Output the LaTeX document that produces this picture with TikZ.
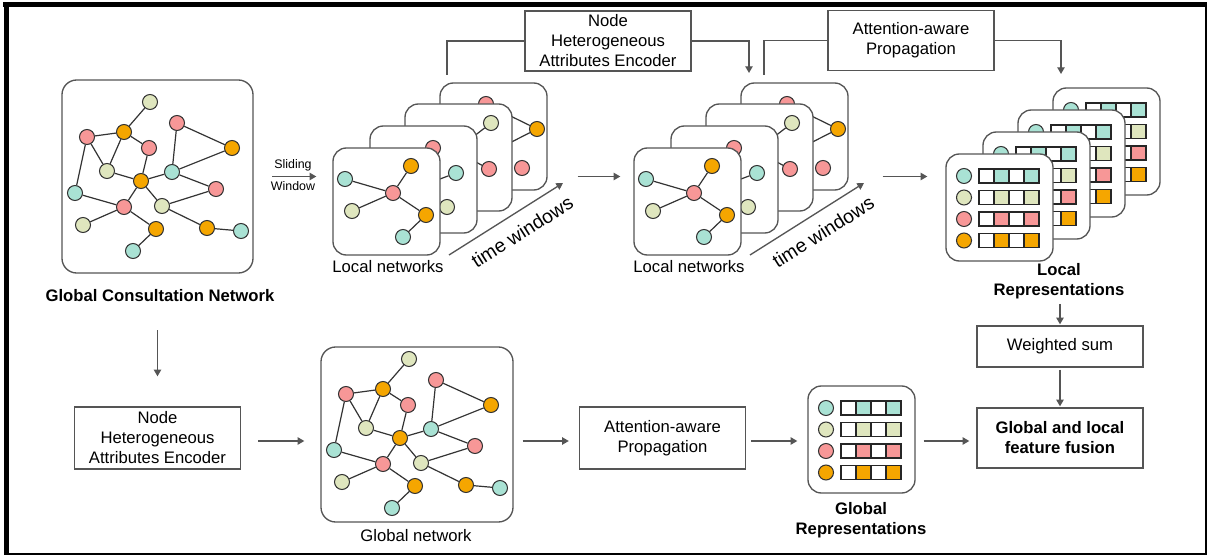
\documentclass[tikz,border=0pt]{standalone}
\usepackage{fontspec}
\setmainfont{Liberation Sans}
\usetikzlibrary{arrows.meta}

\definecolor{cMint}{HTML}{A9E2D4}
\definecolor{cSage}{HTML}{DFE6BE}
\definecolor{cRose}{HTML}{F79797}
\definecolor{cAmber}{HTML}{F5A600}
\definecolor{cInk}{HTML}{333333}
\definecolor{cFrame}{HTML}{555555}

\begin{document}
\begin{tikzpicture}[x=0.75pt,y=-0.75pt,>={Triangle[length=5pt,width=5.5pt]},
        font=\fontsize{12.5}{15}\selectfont,
        vertex/.style={circle,draw=cInk,line width=0.8pt,minimum size=11.25pt,inner sep=0pt},
        mint/.style={vertex,fill=cMint},
        sage/.style={vertex,fill=cSage},
        rose/.style={vertex,fill=cRose},
        amber/.style={vertex,fill=cAmber},
        link/.style={draw=cInk,line width=0.9pt},
        card/.style={draw=cFrame,line width=1pt,fill=white,rounded corners=10pt,
            minimum width=80.25pt,minimum height=80.25pt,inner sep=0pt},
        cell/.style={draw=black!85,line width=0.9pt,minimum width=11.25pt,
            minimum height=10.5pt,inner sep=0pt},
        box/.style={draw=cFrame,line width=1pt,minimum width=124.5pt,minimum height=45pt,
            align=center,inner sep=1pt},
        flow/.style={->,draw=cFrame,line width=1pt},
        conn/.style={draw=cFrame,line width=1pt},
        strong/.style={font=\fontsize{12.5}{15}\selectfont\bfseries,align=center}]
    \useasboundingbox (0,0) rectangle (1208,556);
    % frame
    \draw[line width=1.5pt] (5,4) rectangle (1206,554);
    \draw[line width=3.75pt] (3,4.5) -- (1207,4.5);
    \draw[line width=3.75pt] (6,3) -- (6,555);

    % global consultation network (top) and global network (bottom)
    \node[card,minimum width=143.25pt,minimum height=144.75pt,rounded corners=11pt] (gcn) at (157.5,176.5) {};
    \node[card,minimum width=144pt,minimum height=131.25pt,rounded corners=11pt] (glob) at (417,434.5) {};
    \foreach \dx/\dy/\p in {0/0/g, 259/257/h} {
        \begin{scope}[shift={(\dx,\dy)}]
            \node[sage]  (\p1)  at (150,102) {};
            \node[rose]  (\p2)  at (87,137)  {};
            \node[amber] (\p3)  at (124,132) {};
            \node[rose]  (\p4)  at (149,148) {};
            \node[rose]  (\p5)  at (177,123) {};
            \node[amber] (\p6)  at (232,148) {};
            \node[sage]  (\p7)  at (107,171) {};
            \node[amber] (\p8)  at (141,181) {};
            \node[mint]  (\p9)  at (172,172) {};
            \node[mint]  (\p10) at (75,193)  {};
            \node[rose]  (\p11) at (216,189) {};
            \node[rose]  (\p12) at (124,207) {};
            \node[sage]  (\p13) at (162,206) {};
            \node[sage]  (\p14) at (83,225)  {};
            \node[amber] (\p15) at (156,229) {};
            \node[amber] (\p16) at (207,228) {};
            \node[mint]  (\p17) at (241,231) {};
            \node[mint]  (\p18) at (133,251) {};
        \end{scope}
        \foreach \u/\v in {1/3,2/3,2/7,3/7,3/4,4/8,2/10,7/8,8/9,5/9,5/6,6/9,9/11,
                8/12,8/13,10/12,12/14,12/15,15/18,11/13,13/16,16/17}
            \draw[link] (\p\u) -- (\p\v);
    }
    \node[strong] (gcnl) at (160,296) {Global Consultation Network};
    \node (globl) at (416,536) {Global network};

    % local networks, one stack per time window
    \foreach \sx/\s in {0/a, 301/b} {
        \begin{scope}[shift={(333+\sx,148)}]
            \begin{scope}[shift={(107,-65)}]
                \node[card]  (\s4)  at (53.5,53.5) {};
                \node[rose]  (\s4x) at (50,70) {};
                \node[rose]  (\s4p) at (46,21) {};
                \node[amber] (\s4o) at (97,46) {};
                \node[rose]  (\s4q) at (82,85) {};
                \draw[link] (\s4o) -- (\s4p) (\s4o) -- (\s4x);
            \end{scope}
            \begin{scope}[shift={(72,-44)}]
                \node[card]  (\s3)  at (53.5,53.5) {};
                \node[rose]  (\s3x) at (50,47) {};
                \node[sage]  (\s3s) at (86,19) {};
                \node[rose]  (\s3r) at (84,65) {};
                \draw[link] (\s3x) -- (\s3s) (\s3x) -- (\s3r);
            \end{scope}
            \begin{scope}[shift={(37,-22)}]
                \node[card]  (\s2)  at (53.5,53.5) {};
                \node[amber] (\s2x) at (38,65) {};
                \node[rose]  (\s2r) at (63,22) {};
                \node[mint]  (\s2m) at (86,47) {};
                \node[sage]  (\s2s) at (77,81) {};
                \draw[link] (\s2x) -- (\s2r) (\s2x) -- (\s2m);
            \end{scope}
            \node[card]  (\s1)  at (53.5,53.5) {};
            \node[mint]  (\s1a) at (12,31) {};
            \node[amber] (\s1b) at (78,18) {};
            \node[rose]  (\s1c) at (60,45) {};
            \node[sage]  (\s1d) at (19,63) {};
            \node[amber] (\s1e) at (93,67) {};
            \node[mint]  (\s1f) at (70,89) {};
            \draw[link] (\s1c) -- (\s1a) (\s1c) -- (\s1b) (\s1c) -- (\s1d)
                (\s1c) -- (\s1e) (\s1e) -- (\s1f);
        \end{scope}
        \node (\s-net) at (388+\sx,267) {Local networks};
        \coordinate (\s-from) at (449+\sx,255);
        \coordinate (\s-to)   at (563+\sx,183);
        \draw[flow] (\s-from) -- node[sloped,below=5.5pt,pos=0.55,font=\fontsize{14.5}{17}\selectfont] {time windows} (\s-to);
    }

    % representation cards
    \foreach \x/\y/\n in {1053/88/lr4, 1018/110/lr3, 983/132/lr2, 946/154/lr1, 808/386/gr} {
        \begin{scope}[shift={(\x,\y)}]
            \node[card] (\n) at (53.5,53.5) {};
            \foreach \c [count=\i from 0] in {cMint,cSage,cRose,cAmber} {
                \node[vertex,fill=\c] (\n-\i) at (18,22+21.5*\i) {};
                \foreach \j/\f in {0/white,1/\c,2/white,3/\c}
                    \node[cell,fill=\f] (\n-\i-\j) at (40.5+15*\j,22+21.5*\i) {};
            }
        \end{scope}
    }
    \node[strong] (lrl) at (1059,281.5) {Local\\Representations};
    \node[strong] (grl) at (861,520.5) {Global\\Representations};

    % boxes
    \node[box] (enc2)  at (608,41)    {Node\\Heterogeneous\\Attributes Encoder};
    \node[box] (attn2) at (911,40.5)  {Attention-aware\\Propagation};
    \node[box,minimum height=46.5pt] (enc)  at (157.5,438) {Node\\Heterogeneous\\Attributes Encoder};
    \node[box,minimum height=46.5pt] (attn) at (662.5,438) {Attention-aware\\Propagation};
    \node[box,minimum height=30.75pt] (wsum) at (1060,346.5) {Weighted sum};
    \node[box,strong] (fuse) at (1060,438) {Global and local\\feature fusion};

    % connectors, top row
    \draw[flow,shorten <=14pt,shorten >=12pt] (gcn) --
        node[above,font=\fontsize{9.3}{11}\selectfont] {Sliding}
        node[below,font=\fontsize{9.3}{11}\selectfont] {Window} (gcn -| a1.west);
    \draw[flow,shorten <=22.5pt,shorten >=9.75pt] (a4.east |- gcn) -- (gcn -| b1.west);
    \draw[flow,shorten <=25.5pt,shorten >=13.5pt] (b4.east |- gcn) -- (gcn -| lr1.west);
    \coordinate (encL) at (447,75);
    \coordinate (encR) at (749,73);
    \coordinate (attL) at (764,75);
    \coordinate (attR) at (1061,74);
    \draw[conn] (enc2.west) -| (encL);
    \draw[flow] (enc2.east) -| (encR);
    \draw[conn] (attn2.west) -| (attL);
    \draw[flow] (attn2.east) -| (attR);

    % connectors, bottom row
    \coordinate (row) at (0,441);
    \draw[flow,shorten <=17.5pt,shorten >=22.5pt] (enc |- gcnl.south) -- (enc.north);
    \draw[flow,shorten <=12.75pt,shorten >=12pt] (enc.east |- row) -- (glob.west |- row);
    \draw[flow,shorten <=6.75pt,shorten >=7.5pt] (glob.east |- row) -- (attn.west |- row);
    \draw[flow,shorten <=3.75pt,shorten >=7.5pt] (attn.east |- row) -- (gr.west |- row);
    \draw[flow,shorten <=6pt,shorten >=5.25pt] (gr.east |- row) -- (fuse.west |- row);
    \draw[flow,shorten >=0.75pt] (lrl.south -| wsum) -- (wsum);
    \draw[flow,shorten <=1.5pt,shorten >=0.75pt] (wsum) -- (fuse);
\end{tikzpicture}
\end{document}
